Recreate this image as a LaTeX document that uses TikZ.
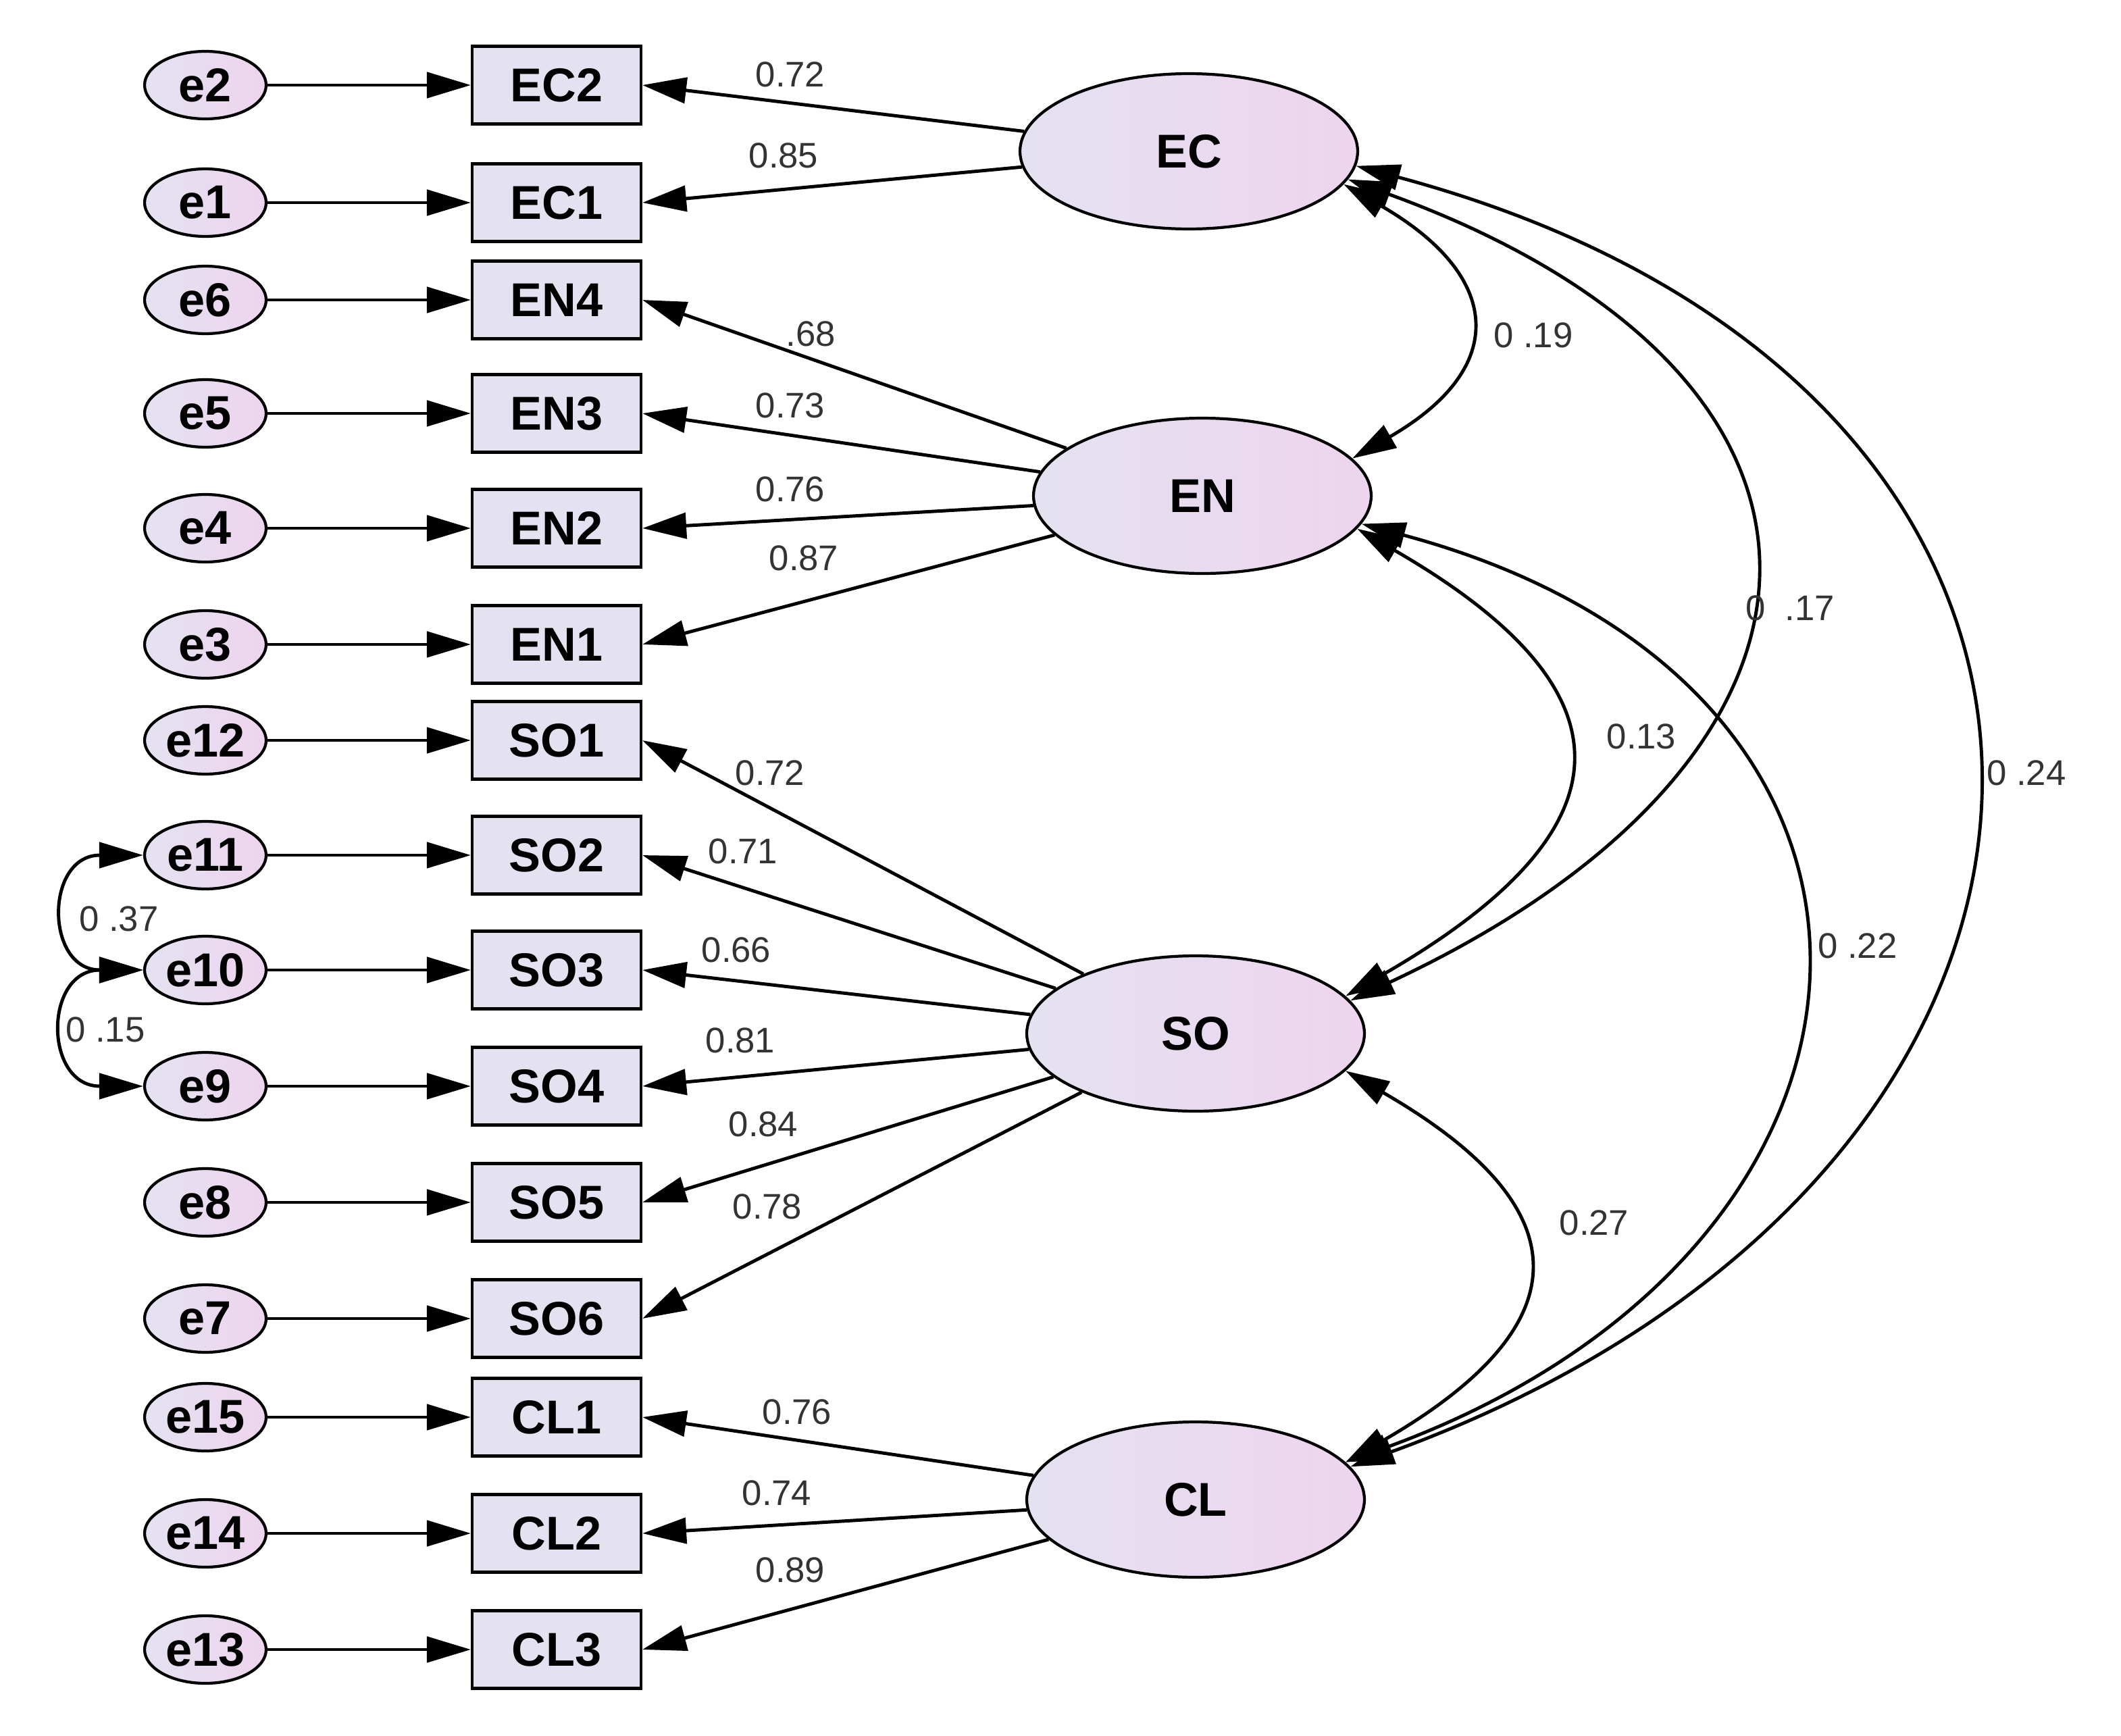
\documentclass[tikz,border=0pt]{standalone}
\usepackage{fontspec}
\setmainfont{Liberation Sans}
\usetikzlibrary{arrows.meta,shapes.geometric}
\definecolor{lavL}{RGB}{228,226,240}
\definecolor{lavR}{RGB}{238,212,238}
\tikzset{
  err/.style={ellipse,draw,very thick,left color=lavL,right color=lavR,minimum width=1.8cm,minimum height=1.0cm,inner sep=0pt,font=\bfseries\fontsize{20}{22}\selectfont},
  obs/.style={rectangle,draw,very thick,fill=lavL,minimum width=2.5cm,minimum height=1.15cm,inner sep=0pt,font=\bfseries\fontsize{20}{22}\selectfont},
  lat/.style={ellipse,draw,very thick,left color=lavL,right color=lavR,minimum width=5cm,minimum height=2.3cm,font=\bfseries\fontsize{20}{22}\selectfont},
  val/.style={font=\fontsize{15}{17}\selectfont,text=black!80,inner sep=1pt},
  tip/.style={-{Triangle[length=0.65cm,width=0.38cm]}},
  cov/.style={{Triangle[length=0.65cm,width=0.38cm]}-{Triangle[length=0.65cm,width=0.38cm]}},
}
\begin{document}
\begin{tikzpicture}[x=0.02cm,y=-0.02cm,line width=1.4pt]
\useasboundingbox (0,0) rectangle (1570,1285);
% latent variables
\node[lat] (EC) at (880,112) {EC};
\node[lat] (EN) at (890,367) {EN};
\node[lat] (SO) at (885,765) {SO};
\node[lat] (CL) at (885,1110) {CL};
% indicators and errors
\foreach \e/\b/\y in {e2/EC2/63,e1/EC1/150,e6/EN4/222,e5/EN3/306,e4/EN2/391,e3/EN1/477,
  e12/SO1/548,e11/SO2/633,e10/SO3/718,e9/SO4/804,e8/SO5/890,e7/SO6/976,
  e15/CL1/1049,e14/CL2/1135,e13/CL3/1221}{
  \node[err] (\e) at (152,\y) {\e};
  \node[obs] (\b) at (412,\y) {\b};
  \draw[tip] (\e) -- (\b);
}
% loadings
\foreach \f/\b/\v/\lx/\ly in {EC/EC2/0.72/585/55,EC/EC1/0.85/580/115,
  EN/EN4/.68/600/247,EN/EN3/0.73/585/300,EN/EN2/0.76/585/362,EN/EN1/0.87/595/413,
  SO/SO1/0.72/570/572,SO/SO2/0.71/550/630,SO/SO3/0.66/545/703,SO/SO4/0.81/548/770,SO/SO5/0.84/565/832,SO/SO6/0.78/568/893,
  CL/CL1/0.76/590/1045,CL/CL2/0.74/575/1105,CL/CL3/0.89/585/1162}{
  \draw[tip] (\f) -- (\b.east);
  \node[val] (l\b) at (\lx,\ly) {\v};
}
% covariances
\draw[cov] (EC.-12) to[out=-30,in=30,looseness=1.7] (EN.14);
\draw[cov] (EC.-10) to[out=-20,in=25,looseness=1.8] (SO.12);
\draw[cov] (EC.-5) to[out=-15,in=20,looseness=1.7] (CL.12);
\draw[cov] (EN.-12) to[out=-30,in=30,looseness=1.8] (SO.14);
\draw[cov] (EN.-10) to[out=-15,in=20,looseness=1.7] (CL.14);
\draw[cov] (SO.-14) to[out=-30,in=30,looseness=1.8] (CL.14);
\draw[cov] (e11.west) to[out=180,in=180,looseness=2.2] (e10.west);
\draw[cov] (e10.west) to[out=180,in=180,looseness=2.2] (e9.west);
\node[val] (c1) at (1135,248) {0 .19};
\node[val] (c2) at (1325,450) {0 \ .17};
\node[val] (c3) at (1500,572) {0 .24};
\node[val] (c4) at (1215,545) {0.13};
\node[val] (c5) at (1375,700) {0 .22};
\node[val] (c6) at (1180,905) {0.27};
\node[val] (c7) at (88,680) {0 .37};
\node[val] (c8) at (78,762) {0 .15};
\end{tikzpicture}
\end{document}
